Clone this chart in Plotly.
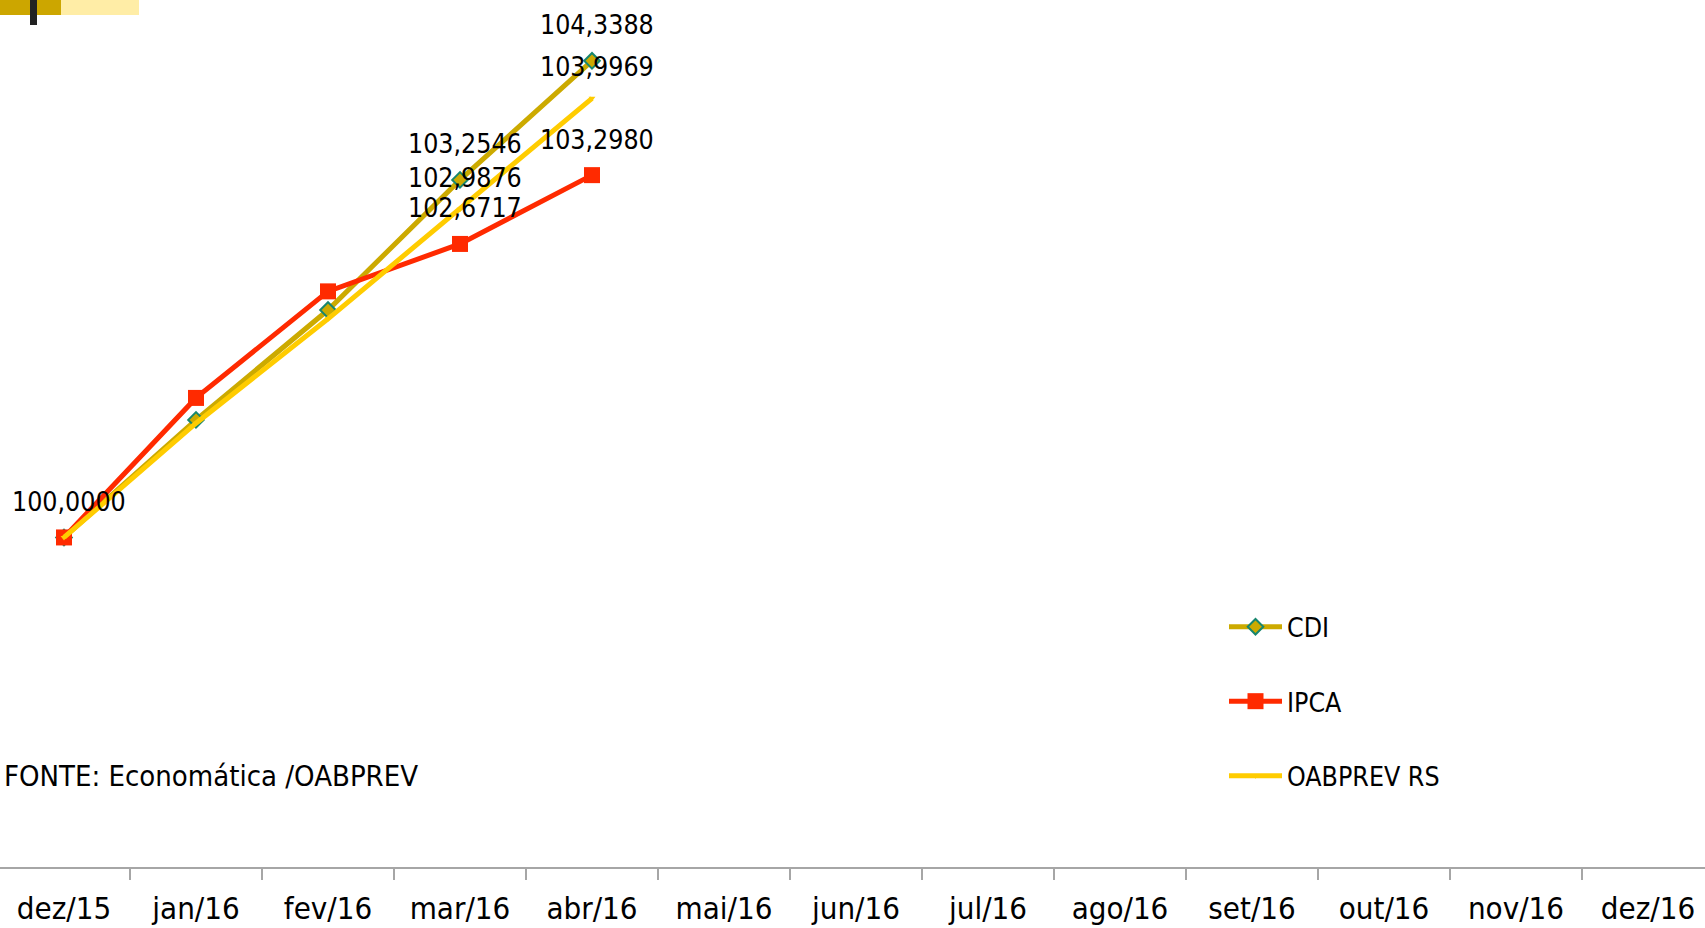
import plotly.graph_objects as go

# ---- data ----
months = ["dez/15", "jan/16", "fev/16", "mar/16", "abr/16", "mai/16", "jun/16",
          "jul/16", "ago/16", "set/16", "out/16", "nov/16", "dez/16"]
cdi = [100.0, 101.07, 102.07, 103.2546, 104.3388]
ipca = [100.0, 101.27, 102.24, 102.6717, 103.2980]
oabprev = [100.0, 101.04, 101.99, 102.9876, 103.9969]
series_names = ["CDI", "IPCA", "OABPREV RS"]
# which points carry a value label (index into months)
label_idx = {"CDI": [0, 3, 4], "IPCA": [3, 4], "OABPREV RS": [3, 4]}
source_text = "FONTE: Economática /OABPREV"

# ---- style ----
FONT = "Tahoma, 'DejaVu Sans Condensed', 'DejaVu Sans', sans-serif"
W, H = 1705, 928
PLOT_H = 867
GOLD = "#CCAA00"
RED = "#FF2A00"
YEL = "#FFCC00"
TEAL = "#17866E"
label_shift = {"CDI": 36, "IPCA": 36, "OABPREV RS": 32}

fig = go.Figure()
fig.add_trace(go.Scatter(
    x=months[:len(cdi)], y=cdi, name="CDI", mode="lines+markers", legendgroup="a",
    line=dict(color=GOLD, width=5),
    marker=dict(symbol="diamond", size=12, color=GOLD, line=dict(color=TEAL, width=2))))
fig.add_trace(go.Scatter(
    x=months[:len(ipca)], y=ipca, name="IPCA", mode="lines+markers", legendgroup="b",
    line=dict(color=RED, width=5),
    marker=dict(symbol="square", size=16, color=RED)))
fig.add_trace(go.Scatter(
    x=months[:len(oabprev)], y=oabprev, name="OABPREV RS", mode="lines+markers", legendgroup="c",
    line=dict(color=YEL, width=5),
    marker=dict(symbol="triangle-down", size=6, color=YEL)))

def fmt(v):
    return f"{v:.4f}".replace(".", ",")

for name, vals in zip(series_names, [cdi, ipca, oabprev]):
    for i in label_idx[name]:
        fig.add_annotation(x=months[i], y=vals[i], text=fmt(vals[i]), showarrow=False,
                           xshift=5, yshift=label_shift[name],
                           font=dict(family=FONT, size=26.5, color="#000"))

fig.add_annotation(xref="paper", yref="paper", x=2 / W, y=1 - 776 / PLOT_H,
                   xanchor="left", yanchor="middle", showarrow=False, text=source_text,
                   font=dict(family=FONT, size=29, color="#000"))

# header decoration (top-left)
def px_rect(x0, y0, x1, y1, color):
    fig.add_shape(type="rect", xref="paper", yref="paper",
                  x0=x0 / W, x1=x1 / W, y0=1 - y0 / PLOT_H, y1=1 - y1 / PLOT_H,
                  fillcolor=color, line=dict(width=0), layer="above")

px_rect(0, 0, 61, 15, "#CCA600")
px_rect(61, 0, 139, 15, "#FFEDA6")
px_rect(30, 0, 37, 25, "#222222")

fig.update_layout(
    width=W, height=H, template="none",
    paper_bgcolor="white", plot_bgcolor="white",
    margin=dict(l=0, r=0, t=0, b=H - PLOT_H, pad=0),
    showlegend=True,
    legend=dict(x=1224 / W, y=1 - 603 / PLOT_H, xanchor="left", yanchor="top",
                font=dict(family=FONT, size=26.5, color="#000"),
                bgcolor="rgba(0,0,0,0)", tracegroupgap=37, itemwidth=53,
                traceorder="grouped"),
    xaxis=dict(type="category", categoryorder="array", categoryarray=months,
               range=[-64 / 132, (W - 64) / 132], tickson="boundaries",
               ticks="outside", ticklen=11, tickcolor="#A6A6A6", tickwidth=1.5,
               showline=True, linecolor="#A6A6A6", linewidth=1.5,
               showgrid=False, zeroline=False, automargin=False,
               ticklabelstandoff=13,
               tickfont=dict(family=FONT, size=31, color="#000")),
    yaxis=dict(range=[97.0, 100 + 538.3 / 110.03], visible=False,
               showgrid=False, zeroline=False, automargin=False),
)

fig.write_html("out.html", config={"displayModeBar": False},
               post_script="document.body.style.margin='0px';document.body.style.overflow='hidden';")
